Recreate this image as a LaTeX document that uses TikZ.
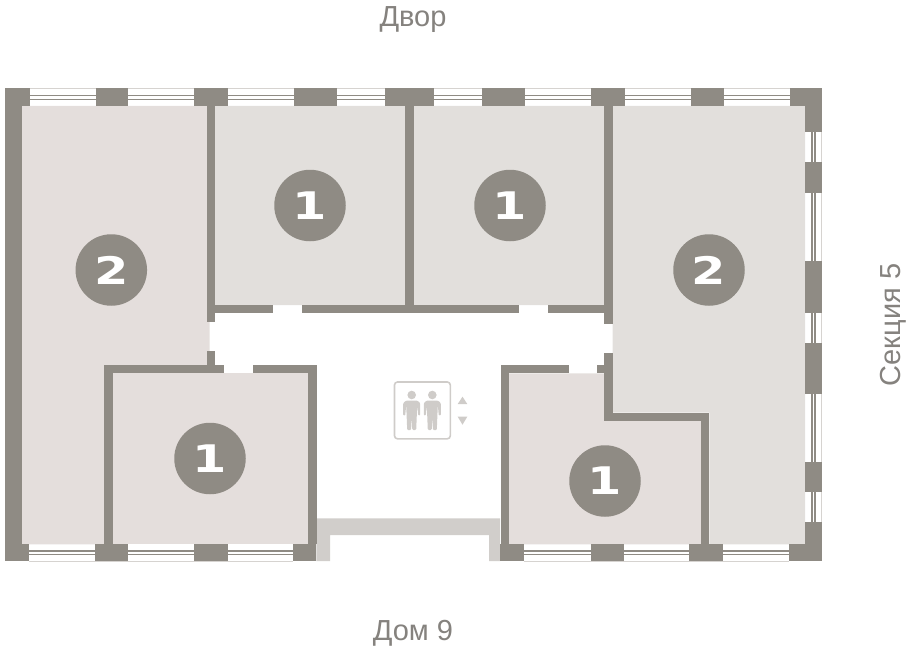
\documentclass[tikz,border=0pt]{standalone}
\usepackage{fontspec}
\setmainfont{Liberation Sans}
\newfontfamily\numfont{DejaVu Sans Bold}
\definecolor{wallgrey}{HTML}{8F8B84}
\definecolor{roomrose}{HTML}{E4DEDC}
\definecolor{roomgrey}{HTML}{E2DFDC}
\definecolor{slabgrey}{HTML}{D1CECB}
\definecolor{edgegrey}{HTML}{D6D3D0}
\definecolor{liftgrey}{HTML}{CFCCC9}
\definecolor{textgrey}{HTML}{85827E}
\newcommand{\widenum}[1]{\scalebox{1.3}[1]{\numfont #1}}
\tikzset{
  wall/.style={fill=wallgrey},
  pane/.style={draw=wallgrey,line width=1.5pt},
  edge/.style={draw=edgegrey,line width=0.8pt},
  roomnum/.style={circle,fill=wallgrey,text=white,minimum size=71.5pt,inner sep=0pt,font=\fontsize{38}{38}\selectfont},
  side/.style={text=textgrey,font=\fontsize{29}{29}\selectfont},
}
\begin{document}
\begin{tikzpicture}[x=1pt,y=-1pt]
\useasboundingbox (0,0) rectangle (910,650);
% rooms
\fill[roomrose] (22,106) rectangle (209.5,365) (22,365) rectangle (104.3,544.3);
\fill[roomgrey] (215,106) rectangle (405.3,305) (414,106) rectangle (604,305);
\fill[roomgrey] (612.7,106) -- (805,106) -- (805,544.3) -- (709.3,544.3) -- (709.3,412.7) -- (612.7,412.7) -- cycle;
\fill[roomrose] (113,373.3) rectangle (308.3,544.3);
\fill[roomrose] (508.7,373.3) -- (604,373.3) -- (604,421) -- (701,421) -- (701,544.3) -- (508.7,544.3) -- cycle;
% slab at the entrance
\fill[slabgrey] (316.3,518.3) -- (500,518.3) -- (500,561) -- (489,561) -- (489,535) -- (330,535) -- (330,561) -- (316.3,561) -- cycle;
% windows
\foreach \a/\b in {29/293,524/789} {
  \draw[pane] (\a,551) -- (\b,551);
  \draw[pane] (\a,554.5) -- (\b,554.5);
  \draw[edge] (\a,561) -- (\b,561);
}
\draw[pane] (30,95.7) -- (790,95.7);
\draw[pane] (30,99.6) -- (790,99.6);
\draw[edge] (30,88.8) -- (790,88.8);
\draw[pane] (811.8,132) -- (811.8,522);
\draw[pane] (815,132) -- (815,522);
\draw[edge] (821.4,132) -- (821.4,522);
% outer walls
\fill[wall] (5,88.5) rectangle (22,561);
\fill[wall] (5,88.5) rectangle (30,106);
\fill[wall] (5,544.3) rectangle (29.3,561);
\fill[wall] (790,88.5) rectangle (821.7,106);
\fill[wall] (805,88.5) rectangle (821.7,131.7);
\fill[wall] (789,544.3) rectangle (821.7,561);
\fill[wall] (805,522.3) rectangle (821.7,561);
% piers
\foreach \a/\b in {95.5/128,193.5/228,294/337.3,385/434.3,482/525,590.7/625.3,691/724.3}
  \fill[wall] (\a,88.5) rectangle (\b,106);
\foreach \a/\b in {95/128.3,194/227.7,293/316.3,500/524.3,590.7/624,689.3/723.3}
  \fill[wall] (\a,544.3) rectangle (\b,561);
\foreach \a/\b in {162/192.7,260.7/312.7,342.7/394.3,462.3/492.3}
  \fill[wall] (805,\a) rectangle (821.7,\b);
% inner walls
\fill[wall] (206.6,106) rectangle (215,321.7);
\fill[wall] (215,305) rectangle (273.4,313.3);
\fill[wall] (302.3,305) rectangle (519,313.3);
\fill[wall] (547.7,305) rectangle (604,313.3);
\fill[wall] (405.3,106) rectangle (414,313.3);
\fill[wall] (604,106) rectangle (612.7,324.3);
\fill[wall] (206.6,350.7) rectangle (215,365);
\fill[wall] (104.3,365) rectangle (224,373.3);
\fill[wall] (252.7,365) rectangle (316.5,373.3);
\fill[wall] (104.3,365) rectangle (113,544.3);
\fill[wall] (308.3,365) rectangle (316.5,544.3);
\fill[wall] (500.7,365) rectangle (568.7,373.3);
\fill[wall] (597.3,365) rectangle (604,373.3);
\fill[wall] (500.7,365) rectangle (508.7,544.3);
\fill[wall] (604,353.3) rectangle (612.7,421);
\fill[wall] (604,412.7) rectangle (709.3,421);
\fill[wall] (701,412.7) rectangle (709.3,544.3);
% lift
\draw[liftgrey,line width=1.6pt,rounded corners=3pt] (394.5,382) rectangle (450.3,438.8);
\foreach \px in {411.7,432.3} {
  \fill[liftgrey] (\px,395) circle (4.3);
  \fill[liftgrey,rounded corners=1pt] (\px-8.5,415.5) -- (\px-8.5,403) -- (\px-5.5,400.5) -- (\px+5.5,400.5) -- (\px+8.5,403) -- (\px+8.5,415.5) -- (\px+6.5,415.5) -- (\px+5.5,405) -- (\px+4.5,430) -- (\px+0.6,430) -- (\px,416) -- (\px-0.6,430) -- (\px-4.5,430) -- (\px-5.5,405) -- (\px-6.5,415.5) -- cycle;
}
\fill[liftgrey] (457.7,404) -- (462.5,396.7) -- (467.3,404) -- cycle;
\fill[liftgrey] (457.7,416.7) -- (462.5,424.7) -- (467.3,416.7) -- cycle;
% room numbers
\node[roomnum] (left2) at (111.3,270) {\widenum{2}};
\node[roomnum] (right2) at (709,270) {\widenum{2}};
\node[roomnum] (top1a) at (310,205.5) {\widenum{1}};
\node[roomnum] (top1b) at (510,205.5) {\widenum{1}};
\node[roomnum] (low1a) at (210,458.5) {\widenum{1}};
\node[roomnum] (low1b) at (605,481) {\widenum{1}};
% surroundings
\node[side] (yard) at (413,20) {Двор};
\node[side] (house) at (413,633) {Дом 9};
\node[side,rotate=90] (section) at (893,325) {Секция 5};
\end{tikzpicture}
\end{document}
